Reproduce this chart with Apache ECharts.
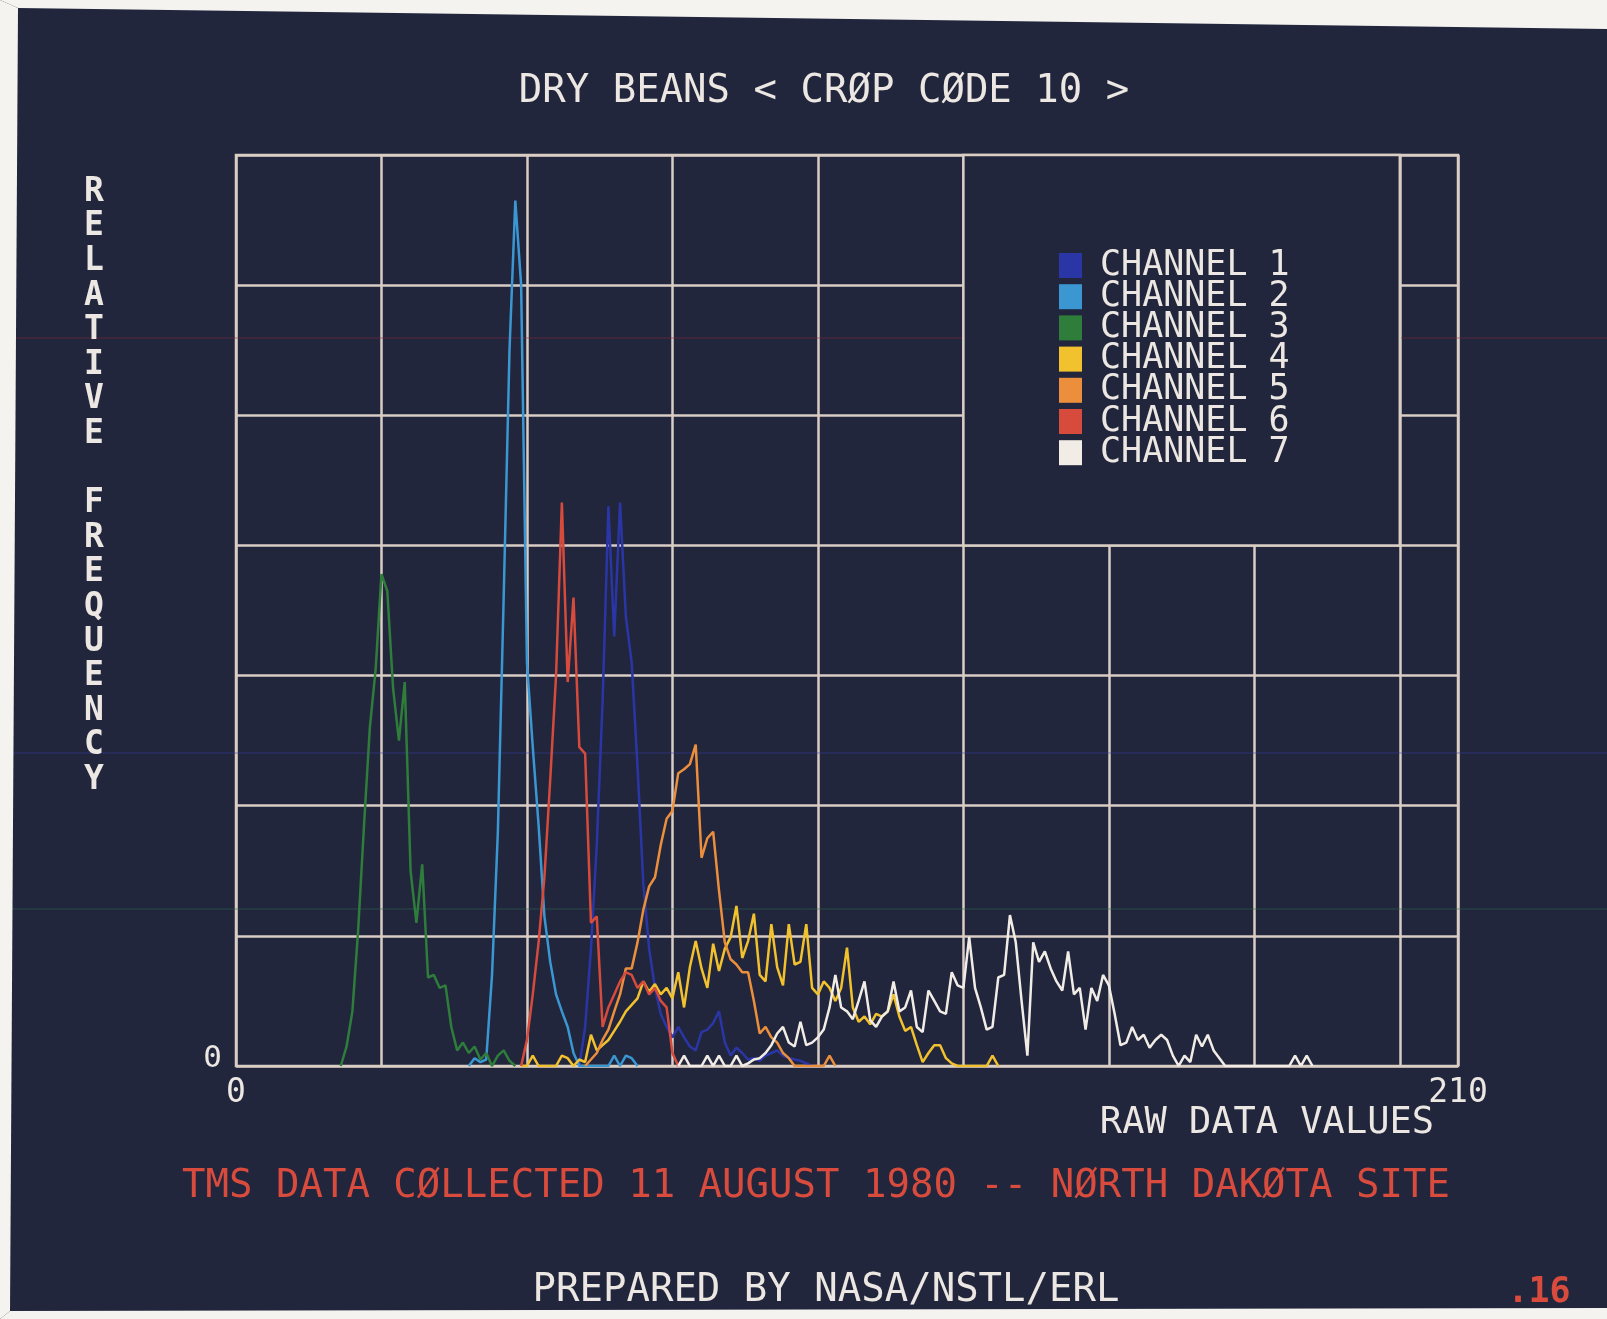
<!DOCTYPE html>
<html>
<head>
<meta charset="utf-8">
<script src="https://cdn.jsdelivr.net/npm/echarts/dist/echarts.min.js"></script>
<style>
  html, body { margin: 0; padding: 0; background: #f5f3f0; }
  #chart { width: 1607px; height: 1319px; }
</style>
</head>
<body>
<div id="chart"></div>
<script>
// Histogram of raw TMS values per channel (one point per raw value).
const channelNames = ['CHANNEL 1', 'CHANNEL 2', 'CHANNEL 3', 'CHANNEL 4', 'CHANNEL 5', 'CHANNEL 6', 'CHANNEL 7'];

const ch1Start = 59;
const ch1Values = [0, 0.3, 0.9, 1.7, 2.8, 4.3, 3.3, 4.33, 3.45, 3.1, 2.3, 1.4, 0.9, 0.6, 0.4, 0.3, 0.22,
  0.3, 0.22, 0.15, 0.12, 0.26, 0.28, 0.33, 0.42, 0.18, 0.08, 0.14, 0.1, 0.05, 0.06, 0.04, 0.08, 0.1, 0.12,
  0.08, 0.06, 0.05, 0.04, 0.02, 0];

const ch2Start = 40;
const ch2Values = [0, 0.06, 0.03, 0.05, 0.7, 1.8, 3.6, 5.5, 6.65, 6.0, 3.1, 2.45, 1.85, 1.15, 0.8, 0.55, 0.42,
  0.3, 0.1, 0, 0, 0, 0, 0, 0, 0.08, 0, 0.08, 0.06, 0];

const ch3Start = 18;
const ch3Values = [0, 0.15, 0.42, 1.05, 1.85, 2.6, 3.05, 3.78, 3.65, 2.9, 2.5, 2.95, 1.5, 1.1, 1.55, 0.68, 0.7,
  0.6, 0.62, 0.3, 0.12, 0.18, 0.1, 0.15, 0.05, 0.1, 0, 0.08, 0.12, 0.04, 0];

const ch4Start = 49;
const ch4Values = [0, 0, 0.08, 0, 0, 0, 0, 0.08, 0.06, 0, 0.05, 0.03, 0.24, 0.12, 0.16, 0.2, 0.27, 0.34, 0.42,
  0.47, 0.52, 0.65, 0.57, 0.63, 0.55, 0.6, 0.52, 0.72, 0.45, 0.76, 0.96, 0.75, 0.6, 0.94, 0.73, 0.9, 0.99,
  1.23, 0.83, 0.96, 1.17, 0.7, 0.65, 1.09, 0.76, 0.62, 1.09, 0.78, 0.8, 1.09, 0.6, 0.55, 0.65, 0.6, 0.5,
  0.6, 0.91, 0.45, 0.34, 0.38, 0.32, 0.4, 0.38, 0.42, 0.55, 0.38, 0.27, 0.3, 0.16, 0.03, 0.1, 0.16, 0.16,
  0.06, 0.02, 0, 0, 0, 0, 0, 0, 0.08, 0];

const ch5Start = 60;
const ch5Values = [0, 0.05, 0.1, 0.2, 0.28, 0.42, 0.55, 0.75, 0.75, 0.95, 1.2, 1.38, 1.45, 1.7, 1.9, 1.96,
  2.25, 2.28, 2.32, 2.47, 1.6, 1.75, 1.8, 1.35, 0.95, 0.82, 0.78, 0.72, 0.72, 0.5, 0.25, 0.3, 0.22, 0.18,
  0.1, 0.06, 0, 0, 0, 0, 0, 0, 0.08, 0];

const ch6Start = 49;
const ch6Values = [0, 0.2, 0.55, 0.95, 1.45, 2.2, 3.0, 4.33, 2.95, 3.6, 2.45, 2.4, 1.1, 1.15, 0.3, 0.45, 0.55,
  0.65, 0.72, 0.7, 0.6, 0.65, 0.55, 0.6, 0.5, 0.45, 0.1, 0];

const ch7Start = 76;
const ch7Values = [0, 0.08, 0, 0, 0, 0.08, 0, 0.08, 0, 0, 0.08, 0, 0.02, 0.05, 0.06, 0.1, 0.16, 0.25, 0.3,
  0.18, 0.15, 0.34, 0.16, 0.18, 0.22, 0.28, 0.45, 0.7, 0.45, 0.42, 0.36, 0.5, 0.65, 0.35, 0.3, 0.38, 0.42,
  0.65, 0.42, 0.45, 0.58, 0.3, 0.26, 0.58, 0.5, 0.42, 0.4, 0.72, 0.62, 0.6, 0.99, 0.6, 0.45, 0.28, 0.3,
  0.68, 0.7, 1.16, 0.95, 0.5, 0.08, 0.95, 0.8, 0.88, 0.75, 0.65, 0.58, 0.88, 0.55, 0.6, 0.28, 0.6, 0.5,
  0.7, 0.62, 0.4, 0.16, 0.18, 0.3, 0.2, 0.24, 0.14, 0.2, 0.24, 0.2, 0.08, 0, 0.08, 0.03, 0.24, 0.15, 0.24,
  0.12, 0.06, 0, 0, 0, 0, 0, 0, 0, 0, 0, 0, 0, 0, 0.08, 0, 0.08, 0];

const xTickLabels = ['0', '210'];
const yTickLabels = ['0'];

const channelStarts = [ch1Start, ch2Start, ch3Start, ch4Start, ch5Start, ch6Start, ch7Start];
const channelValues = [ch1Values, ch2Values, ch3Values, ch4Values, ch5Values, ch6Values, ch7Values];

// Styling
const FONT = '"DejaVu Sans Mono", monospace';
const BG = '#21263c';
const PAPER = '#f5f3f0';
const GRID_C = '#d9cdc4';
const TEXT_C = '#ece7e2';
const RED_TEXT = '#d84b3d';
const channelColors = ['#2b36a6', '#3a97d2', '#2f7d3a', '#f2c12e', '#eb8f3c', '#d64b3c', '#f1ece5'];

function toPoints(start, values) {
  return values.map((v, i) => [start + i, v]);
}

const series = channelNames.map((name, k) => ({
  name: name,
  type: 'line',
  data: toPoints(channelStarts[k], channelValues[k]),
  showSymbol: false,
  symbol: 'none',
  silent: true,
  lineStyle: { color: channelColors[k], width: 2.5 },
  itemStyle: { color: channelColors[k] },
  z: 3 + k
}));

// Blank panel behind the legend (grid lines cleared inside it)
series[0].markArea = {
  silent: true,
  itemStyle: { color: BG, borderColor: GRID_C, borderWidth: 2.5 },
  data: [[{ xAxis: 125, yAxis: 4 }, { xAxis: 200, yAxis: 7 }]]
};

function txt(text, x, y, font, color, align, vAlign, lineHeight) {
  const style = {
    text: text, fill: color, font: font + ' ' + FONT,
    align: align, textAlign: align,
    verticalAlign: vAlign, textVerticalAlign: vAlign
  };
  if (lineHeight) style.lineHeight = lineHeight;
  return { type: 'text', x: x, y: y, z: 50, silent: true, style: style };
}

// faint CRT scan-line tint
function scan(y, color) {
  return { type: 'line', z: 1, silent: true, shape: { x1: 0, y1: y, x2: 1607, y2: y },
    style: { stroke: color, lineWidth: 1, opacity: 0.55 } };
}

const chart = echarts.init(document.getElementById('chart'), null, { renderer: 'canvas' });
chart.setOption({
  backgroundColor: BG,
  animation: false,
  grid: {
    left: 236, right: 149, top: 155, bottom: 253,
    show: true, borderColor: GRID_C, borderWidth: 2.5, backgroundColor: 'transparent'
  },
  xAxis: {
    type: 'value', min: 0, max: 210, interval: 25,
    axisLine: { show: false }, axisTick: { show: false },
    splitLine: { lineStyle: { color: GRID_C, width: 2.5 } },
    axisLabel: {
      showMinLabel: true, showMaxLabel: true,
      formatter: v => (xTickLabels.indexOf(String(v)) >= 0 ? String(v) : ''),
      color: TEXT_C, fontFamily: FONT, fontSize: 33, margin: 11
    }
  },
  yAxis: {
    type: 'value', min: 0, max: 7, interval: 1,
    axisLine: { show: false }, axisTick: { show: false },
    splitLine: { lineStyle: { color: GRID_C, width: 2.5 } },
    axisLabel: {
      formatter: v => (yTickLabels.indexOf(String(v)) >= 0 ? String(v) : ''),
      color: TEXT_C, fontFamily: FONT, fontSize: 31, margin: 14,
      verticalAlign: 'bottom', lineHeight: 15
    }
  },
  legend: {
    orient: 'vertical', left: 1059, top: 248, padding: 0,
    itemWidth: 23, itemHeight: 25, itemGap: -3.8, icon: 'rect', selectedMode: false,
    textStyle: { color: TEXT_C, fontFamily: FONT, fontSize: 35, padding: [0, 0, 0, 13] },
    data: channelNames
  },
  series: series,
  graphic: [
    scan(338, '#8a2a3a'),
    scan(753, '#3a3aa0'),
    scan(909, '#2f6a55'),
    // paper edges around the screen
    { type: 'polygon', z: 60, silent: true, shape: { points: [[0, 0], [1607, 0], [1607, 29], [18, 8]] }, style: { fill: PAPER } },
    { type: 'polygon', z: 60, silent: true, shape: { points: [[0, 0], [18, 8], [10, 1311], [0, 1319]] }, style: { fill: PAPER } },
    { type: 'polygon', z: 60, silent: true, shape: { points: [[0, 1319], [10, 1311], [1607, 1308], [1607, 1319]] }, style: { fill: PAPER } },
    txt('DRY BEANS < CRØP CØDE 10 >', 824, 92, '39px', TEXT_C, 'center', 'middle'),
    txt('RELATIVE FREQUENCY'.split('').join('\n'), 94, 175, 'bold 33px', TEXT_C, 'center', 'top', 34.6),
    txt('RAW DATA VALUES', 1434, 1123, '37px', TEXT_C, 'right', 'middle'),
    txt('TMS DATA CØLLECTED 11 AUGUST 1980 -- NØRTH DAKØTA SITE', 816, 1187, '39px', RED_TEXT, 'center', 'middle'),
    txt('PREPARED BY NASA/NSTL/ERL', 826, 1291, '39px', TEXT_C, 'center', 'middle'),
    txt('.16', 1539, 1293, 'bold 35px', RED_TEXT, 'center', 'middle')
  ]
});
</script>
</body>
</html>
